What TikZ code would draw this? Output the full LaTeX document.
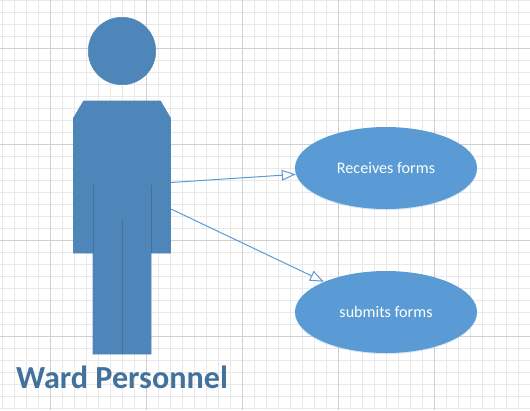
\documentclass[tikz,border=0pt]{standalone}
\usepackage{fontspec}
\setmainfont{Carlito}
\usetikzlibrary{arrows.meta,shapes.geometric,shadows}
\definecolor{manblue}{HTML}{4F86BA}
\definecolor{manedge}{HTML}{41719C}
\definecolor{caseblue}{HTML}{5B9BD5}
\definecolor{gridminor}{HTML}{E9E9E9}
\definecolor{gridmajor}{HTML}{D0D0D0}
\begin{document}
\begin{tikzpicture}[x=0.75pt,y=-0.75pt]
        \tikzstyle{usecase}=[ellipse,fill=caseblue,text=white,inner sep=0pt,
        drop shadow={shadow xshift=0pt,shadow yshift=-0.8pt,opacity=0.25,fill=caseblue},
        minimum width=136.5pt,minimum height=61.5pt,font=\fontsize{12.1pt}{14pt}\selectfont]
        \tikzstyle{man}=[fill=manblue,draw=manblue,line width=0.4pt]
        \tikzstyle{seam}=[draw=manedge,line width=0.5pt]
        \tikzstyle{assoc}=[draw=caseblue,line width=0.75pt,-{Triangle[open,fill=white,length=10.5pt,width=8pt]}]
        \useasboundingbox (0,0) rectangle (530,410);
        % page grid
        \foreach \gx in {2.7,14.7,...,530} \draw[gridminor,line width=0.6pt] (\gx,0) -- (\gx,410);
        \foreach \gy in {0.3,12.3,...,410} \draw[gridminor,line width=0.6pt] (0,\gy) -- (530,\gy);
        \foreach \gx in {50.7,146.7,...,530} \draw[gridmajor,line width=0.7pt] (\gx,0) -- (\gx,410);
        \foreach \gy in {48.3,144.3,...,410} \draw[gridmajor,line width=0.7pt] (0,\gy) -- (530,\gy);
        % the man
        \node at (122,51) [circle,man,inner sep=0pt,minimum size=50.6pt] (head) {};
        \draw[man] (83.5,101) -- (160.5,101) -- (170.5,118) -- (170.5,253) -- (151,253)
        -- (151,354) -- (93,354) -- (93,253) -- (73.5,253) -- (73.5,118) --cycle;
        \coordinate (armtop) at (93,185);
        \coordinate (armbot) at (93,253);
        \coordinate (armtopr) at (151,185);
        \coordinate (armbotr) at (151,253);
        \coordinate (legtop) at (122,219);
        \coordinate (legbot) at (122,354);
        \draw[seam] (armtop) -- (armbot);
        \draw[seam] (armtopr) -- (armbotr);
        \draw[seam] (legtop) -- (legbot);
        \coordinate (hand1) at (171,182.5);
        \coordinate (hand2) at (171,209);
        % use cases
        \node at (386,168) [usecase] (receives) {Receives forms};
        \node at (386,312) [usecase] (submits) {submits forms};
        \draw[assoc] (hand1) -- (receives.184);
        \draw[assoc] (hand2) -- (submits.154);
        \node at (122,377) [text=manedge,font=\fontsize{24.1pt}{26pt}\selectfont\bfseries] (title) {Ward Personnel};
      \end{tikzpicture}
\end{document}
